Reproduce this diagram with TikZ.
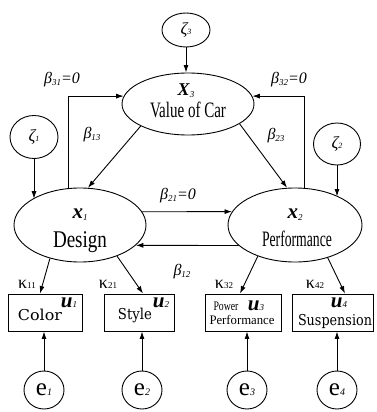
\documentclass[tikz,border=0pt]{standalone}
\usepackage{fontspec}
\setmainfont{Liberation Serif}
\newfontfamily\dvs{DejaVu Serif}
\usetikzlibrary{arrows.meta,calc,shapes.geometric}
\newcommand\fw[2]{\resizebox{#1pt}{\height}{#2}}
\newcommand\fs[1]{\fontsize{#1}{#1}\selectfont}
\newcommand\lo[3]{\raisebox{-#2pt}{\fs{#1}#3}}
\begin{document}
\begin{tikzpicture}[x=1pt,y=-1pt,
  ln/.style={line width=0.9pt},
  arr/.style={ln,-{Latex[length=7.5pt,width=5pt]}},
  circ/.style={ellipse,draw,ln,inner sep=0pt},
  box/.style={rectangle,draw,ln,inner sep=0pt},
  txt/.style={inner sep=0pt},
  bt/.style={inner sep=0pt,anchor=base},
  beta/.style={inner sep=0pt,font=\fs{16}\itshape},
  kap/.style={inner sep=0pt,font=\fs{18}},
]
\useasboundingbox (0,0) rectangle (376,412);
% latent variables
\node[circ,minimum width=48,minimum height=34] (z3) at (186,30) {\fs{17}\itshape ζ\lo{8}{0}{3}};
\node[circ,minimum width=132,minimum height=62] (X3) at (188,104) {};
\node[circ,minimum width=48,minimum height=43] (z1) at (34,137) {\fs{17}\itshape ζ\lo{8}{0}{1}};
\node[circ,minimum width=47,minimum height=42] (z2) at (337,144) {\fs{17}\itshape ζ\lo{8}{0}{2}};
\node[circ,minimum width=132,minimum height=74] (X1) at (80,225) {};
\node[circ,minimum width=134,minimum height=74] (X2) at (295,225) {};
% texts in ellipses
\node[bt] (tX3) at (186,95) {\fs{18}\bfseries\itshape X\lo{9}{2}{\mdseries 3}};
\node[bt] (tV) at (188,117) {\fw{76}{\fs{22}Value of Car}};
\node[bt] (tx1) at (80,218) {\fs{21}\bfseries\itshape x\lo{9}{2}{\mdseries 1}};
\node[bt] (tD) at (80,247) {\fw{54}{\fs{24}Design}};
\node[bt] (tx2) at (295,218) {\fs{21}\bfseries\itshape x\lo{9}{2}{\mdseries 2}};
\node[bt] (tP) at (297,246) {\fw{70}{\fs{22}Performance}};
% boxes
\node[box,minimum width=74,minimum height=37] (b1) at (45,312.5) {};
\node[box,minimum width=70,minimum height=37] (b2) at (139,312.5) {};
\node[box,minimum width=76,minimum height=37] (b3) at (243,312.5) {};
\node[box,minimum width=81,minimum height=37] (b4) at (333,312.5) {};
\node[bt] (tu1) at (69,307) {\fs{21}\bfseries\itshape u\lo{9}{0}{\mdseries 1}};
\node[bt] (tC) at (40,320) {\fw{44}{\dvs\fs{15}Color}};
\node[bt] (tu2) at (161,307) {\fs{21}\bfseries\itshape u\lo{9}{0}{\mdseries 2}};
\node[bt] (tS) at (135,319) {\fw{34}{\dvs\fs{15}Style}};
\node[bt] (tPw) at (226,310) {\fw{25}{\fs{13}Power}};
\node[bt] (tu3) at (256,310) {\fs{21}\bfseries\itshape u\lo{9}{0}{\mdseries 3}};
\node[bt] (tPf) at (242,324) {\fw{65}{\fs{13}Performance}};
\node[bt] (tu4) at (339,307) {\fs{21}\bfseries\itshape u\lo{9}{0}{\mdseries 4}};
\node[bt] (tSu) at (335,325) {\fw{74}{\dvs\fs{15}Suspension}};
% errors
\node[circ,minimum width=40,minimum height=38] (e1) at (44,390) {\fs{25}e\lo{10}{0}{\itshape 1}};
\node[circ,minimum width=40,minimum height=38] (e2) at (142,390) {\fs{25}e\lo{10}{0}{\itshape 2}};
\node[circ,minimum width=40,minimum height=38] (e3) at (247,390) {\fs{25}e\lo{10}{0}{\itshape 3}};
\node[circ,minimum width=40,minimum height=38] (e4) at (337,390) {\fs{25}e\lo{10}{0}{\itshape 4}};
% labels
\node[beta] (l31) at (62,80) {β\lo{9}{2}{31}=0};
\node[beta] (l32) at (289,80) {β\lo{9}{2}{32}=0};
\node[beta] (l13) at (92,135) {β\lo{9}{2}{13}};
\node[beta] (l23) at (276,136) {β\lo{9}{2}{23}};
\node[beta] (l21) at (178,196) {β\lo{9}{2}{21}=0};
\node[beta] (l12) at (182,272) {β\lo{9}{2}{12}};
\node[kap] (k11) at (27,284) {κ\lo{9}{0}{11}};
\node[kap] (k21) at (108,284) {κ\lo{9}{0}{21}};
\node[kap] (k32) at (224,284) {κ\lo{9}{0}{32}};
\node[kap] (k42) at (315,284) {κ\lo{9}{0}{42}};
% connectors
\draw[arr] (z3.south) -- (z3.south |- X3.north);
\draw[arr] (z1.south) -- (X1.151 -| z1.south);
\draw[arr] (z2.south) -- (X2.33 -| z2.south);
\draw[arr] (X1.108) |- (X3.173);
\draw[arr] (X2.76) |- (X3.7);
\draw[arr] (X3.205) -- (X1.78);
\draw[arr] (X3.339) -- (X2.102);
\draw[arr] (X1.12) -- (X2.168);
\draw[arr] (X2.200) -- (X1.340);
\draw[arr] (X1.228) -- ($(b1.north)+(-5,0)$);
\draw[arr] (X1.320) -- ($(b2.north)+(4,0)$);
\draw[arr] (X2.220) -- ($(b3.north)+(-3,0)$);
\draw[arr] (X2.315) -- ($(b4.north)+(12,0)$);
\draw[arr] (e1.north) -- (e1.north |- b1.south);
\draw[arr] (e2.north) -- (e2.north |- b2.south);
\draw[arr] (e3.north) -- (e3.north |- b3.south);
\draw[arr] (e4.north) -- (e4.north |- b4.south);
\end{tikzpicture}
\end{document}
